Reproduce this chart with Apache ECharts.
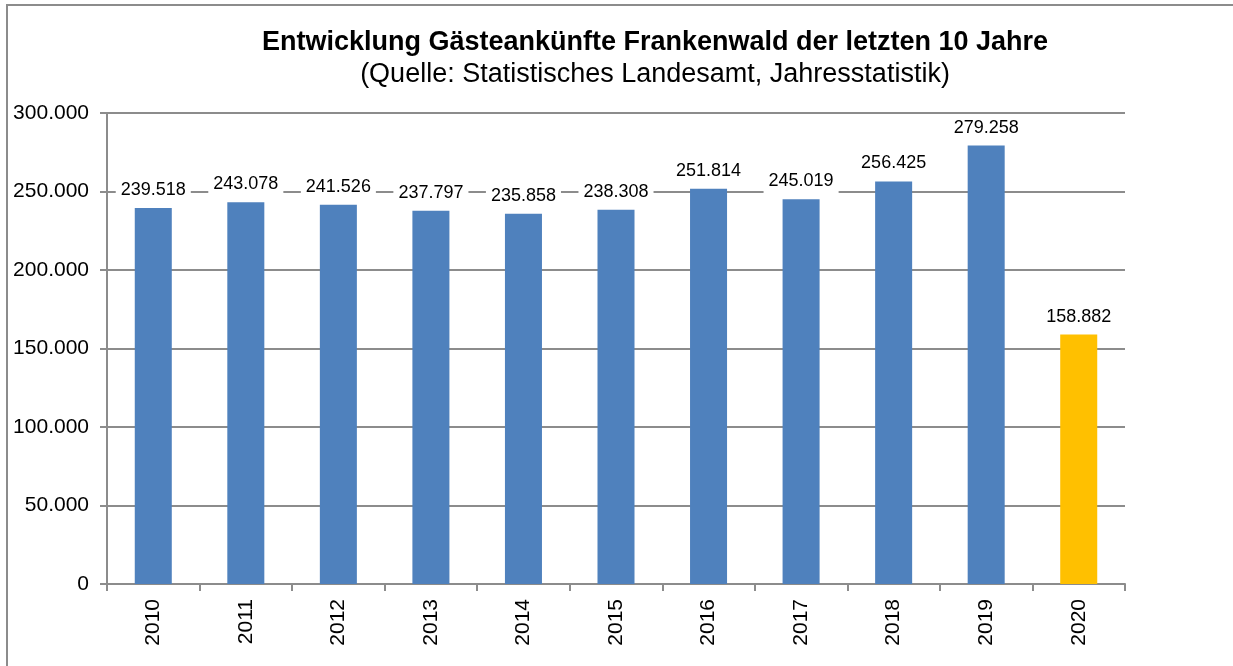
<!DOCTYPE html>
<html>
<head>
<meta charset="utf-8">
<script src="https://cdn.jsdelivr.net/npm/echarts@6/dist/echarts.min.js"></script>
<style>
  html, body { margin: 0; padding: 0; background: #fff; }
  #container { width: 1233px; height: 666px; }
</style>
</head>
<body>
<div id="container"></div>
<script>
// Daten
var years = ['2010', '2011', '2012', '2013', '2014', '2015', '2016', '2017', '2018', '2019', '2020'];
var arrivals = [239518, 243078, 241526, 237797, 235858, 238308, 251814, 245019, 256425, 279258, 158882];
var barColors = ['#4F81BD', '#4F81BD', '#4F81BD', '#4F81BD', '#4F81BD', '#4F81BD', '#4F81BD', '#4F81BD', '#4F81BD', '#4F81BD', '#FFC000'];

function fmt(v) {
    return String(v).replace(/\B(?=(\d{3})+(?!\d))/g, '.');
}

var dom = document.getElementById('container');
var myChart = echarts.init(dom, null, { renderer: 'canvas' });

var option = {
    animation: false,
    textStyle: { fontFamily: '"Liberation Sans", Arial, sans-serif' },
    title: {
        text: 'Entwicklung Gästeankünfte Frankenwald der letzten 10 Jahre',
        subtext: '(Quelle: Statistisches Landesamt, Jahresstatistik)',
        left: 650,
        textAlign: 'center',
        top: 24,
        itemGap: 5,
        textStyle: { fontSize: 27, fontWeight: 'bold', color: '#000' },
        subtextStyle: { fontSize: 27, color: '#000' }
    },
    graphic: [{
        type: 'rect',
        shape: { x: 7, y: 5, width: 1240, height: 680 },
        style: { fill: 'none', stroke: '#8c8c8c', lineWidth: 2 },
        z: -1
    }],
    grid: { left: 107, right: 108, top: 113, bottom: 82 },
    xAxis: {
        type: 'category',
        data: years,
        axisLine: { lineStyle: { color: '#8c8c8c', width: 2 } },
        axisTick: { show: true, length: 7, lineStyle: { color: '#8c8c8c', width: 2 } },
        axisLabel: { rotate: 90, color: '#000', fontSize: 21, margin: 15 }
    },
    yAxis: {
        type: 'value',
        min: 0,
        max: 300000,
        interval: 50000,
        axisLine: { show: true, lineStyle: { color: '#8c8c8c', width: 2 } },
        axisTick: { show: true, length: 7, lineStyle: { color: '#8c8c8c', width: 2 } },
        splitLine: { lineStyle: { color: '#8c8c8c', width: 2 } },
        axisLabel: {
            color: '#000',
            fontSize: 21,
            margin: 18,
            formatter: function (v) { return fmt(v); }
        }
    },
    series: [{
        type: 'bar',
        barWidth: '40%',
        data: arrivals.map(function (v, i) {
            return { value: v, itemStyle: { color: barColors[i] } };
        }),
        label: {
            show: true,
            position: 'top',
            distance: 6,
            color: '#000',
            fontSize: 18,
            backgroundColor: '#fff',
            padding: [3, 5],
            formatter: function (p) { return fmt(p.value); }
        }
    }]
};

myChart.setOption(option);
window.addEventListener('resize', myChart.resize);
</script>
</body>
</html>
